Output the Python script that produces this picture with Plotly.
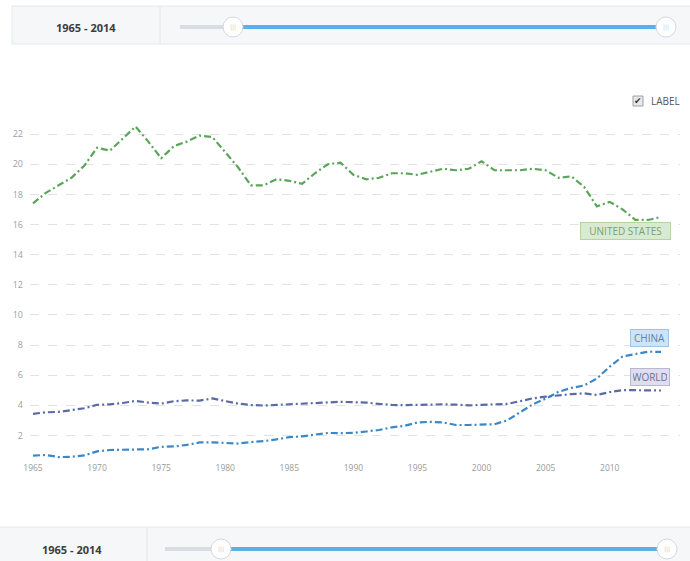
import plotly.graph_objects as go

years = list(range(1965, 2015))
us = [17.4, 18.1, 18.6, 19.1, 19.9, 21.1, 20.9, 21.7, 22.5, 21.5,
      20.4, 21.2, 21.5, 21.9, 21.8, 20.8, 19.8, 18.6, 18.6, 19.0,
      18.9, 18.7, 19.4, 20.0, 20.1, 19.3, 19.0, 19.1, 19.4, 19.4,
      19.3, 19.5, 19.7, 19.6, 19.7, 20.2, 19.6, 19.6, 19.6, 19.7,
      19.6, 19.1, 19.2, 18.5, 17.2, 17.5, 17.0, 16.3, 16.3, 16.5]
china = [0.66, 0.70, 0.56, 0.58, 0.67, 0.94, 1.03, 1.06, 1.08, 1.08,
         1.24, 1.27, 1.37, 1.53, 1.54, 1.49, 1.46, 1.56, 1.62, 1.74,
         1.88, 1.94, 2.04, 2.16, 2.15, 2.17, 2.26, 2.36, 2.53, 2.64,
         2.86, 2.90, 2.86, 2.69, 2.69, 2.70, 2.74, 3.00, 3.52, 4.06,
         4.44, 4.89, 5.15, 5.31, 5.78, 6.56, 7.24, 7.42, 7.56, 7.54]
world = [3.43, 3.53, 3.56, 3.66, 3.80, 4.03, 4.06, 4.15, 4.29, 4.18,
         4.11, 4.27, 4.32, 4.31, 4.45, 4.28, 4.11, 4.02, 3.98, 4.02,
         4.07, 4.09, 4.14, 4.21, 4.23, 4.20, 4.18, 4.09, 4.02, 4.01,
         4.04, 4.06, 4.06, 4.04, 3.99, 4.03, 4.05, 4.09, 4.27, 4.46,
         4.57, 4.67, 4.74, 4.79, 4.68, 4.88, 5.00, 5.00, 5.00, 4.98]
series_names = ["UNITED STATES", "CHINA", "WORLD"]
range_label = "1965 - 2014"
x_ticks = [1965, 1970, 1975, 1980, 1985, 1990, 1995, 2000, 2005, 2010]
y_ticks = [2, 4, 6, 8, 10, 12, 14, 16, 18, 20, 22]

W, H = 690, 561
L, R, T, B = 30, 10, 110, 100
PW, PH = W - L - R, H - T - B


def px(x):
    return (x - L) / PW


def py(y):
    return (H - B - y) / PH


FONT = "Open Sans"
colors = {"UNITED STATES": "#5aa55a", "CHINA": "#3a88c8", "WORLD": "#5b6aa6"}
dash = "7px,3px,2px,3px"

fig = go.Figure()
for name, vals in zip(series_names, [us, china, world]):
    fig.add_trace(go.Scatter(x=years, y=vals, mode="lines", name=name,
                             line=dict(color=colors[name], width=2.2, dash=dash),
                             hoverinfo="skip"))

shapes = []
annotations = []

# label boxes
label_styles = {
    "UNITED STATES": dict(bg="#d8ead2", border="#b3d5a6", fc="#7d9f6c", x=625.5, y=230.5, w=85),
    "CHINA": dict(bg="#d0e3f3", border="#9ec3e4", fc="#5d82ac", x=649.5, y=338, w=33),
    "WORLD": dict(bg="#dedeee", border="#b7b7d3", fc="#6e6e92", x=650, y=377, w=34),
}
for name, s in label_styles.items():
    annotations.append(dict(x=px(s["x"]), y=py(s["y"]), xref="paper", yref="paper",
                            text=name, showarrow=False, bgcolor=s["bg"],
                            bordercolor=s["border"], borderwidth=1, borderpad=2,
                            width=s["w"], height=12, align="center",
                            font=dict(family=FONT, size=10, color=s["fc"]),
                            xanchor="center", yanchor="middle"))

# LABEL checkbox
shapes.append(dict(type="rect", xref="paper", yref="paper",
                   x0=px(633), x1=px(643), y0=py(106), y1=py(96),
                   line=dict(color="#a0a0a0", width=1), fillcolor="#e8e8e8"))
annotations.append(dict(x=px(638), y=py(101), xref="paper", yref="paper", text="✔",
                        showarrow=False, font=dict(family="DejaVu Sans", size=9, color="#333"),
                        xanchor="center", yanchor="middle"))
annotations.append(dict(x=px(649), y=py(101), xref="paper", yref="paper", text="LABEL",
                        showarrow=False, font=dict(family=FONT, size=10, color="#555"),
                        xanchor="left", yanchor="middle"))


def slider_panel(top, bottom, left, divider, text_x, track_y, t0, h1, h2):
    shapes.append(dict(type="rect", xref="paper", yref="paper", layer="below",
                       x0=px(left), x1=px(W + 2), y0=py(bottom), y1=py(top),
                       line=dict(color="#e6e8ec", width=1), fillcolor="#f6f7f9"))
    shapes.append(dict(type="line", xref="paper", yref="paper",
                       x0=px(divider), x1=px(divider), y0=py(bottom), y1=py(top),
                       line=dict(color="#e4e6ea", width=1)))
    annotations.append(dict(x=px(text_x), y=py(track_y), xref="paper", yref="paper",
                            text="<b>" + range_label + "</b>", showarrow=False,
                            font=dict(family=FONT, size=11, color="#3c3c3c"),
                            xanchor="center", yanchor="middle"))
    shapes.append(dict(type="line", xref="paper", yref="paper",
                       x0=px(t0), x1=px(h1), y0=py(track_y), y1=py(track_y),
                       line=dict(color="#d8dde3", width=4)))
    shapes.append(dict(type="line", xref="paper", yref="paper",
                       x0=px(h1), x1=px(h2), y0=py(track_y), y1=py(track_y),
                       line=dict(color="#5cb0ea", width=4)))
    for hx in (h1, h2):
        shapes.append(dict(type="circle", xref="paper", yref="paper",
                           x0=px(hx - 10), x1=px(hx + 10),
                           y0=py(track_y + 10), y1=py(track_y - 10),
                           line=dict(color="#d4d8dd", width=1), fillcolor="#ffffff"))
        annotations.append(dict(x=px(hx), y=py(track_y), xref="paper", yref="paper",
                                text="|||", showarrow=False,
                                font=dict(family="DejaVu Sans", size=6, color="#c8ccd2"),
                                xanchor="center", yanchor="middle"))


slider_panel(6, 44, 12, 160, 86, 27, 180, 233, 666)
slider_panel(527, 565, -2, 147, 72, 549, 165, 221, 667)

x0_year = 1965 - 3 / 12.82
x1_year = 2014 + 19 / 12.82

fig.update_layout(
    width=W, height=H,
    margin=dict(l=L, r=R, t=T, b=B, pad=0),
    paper_bgcolor="white", plot_bgcolor="white",
    showlegend=False,
    font=dict(family=FONT, color="#999"),
    shapes=shapes, annotations=annotations,
    xaxis=dict(range=[x0_year, x1_year], tickvals=x_ticks, showgrid=False,
               zeroline=False, showline=False, ticks="",
               tickfont=dict(family=FONT, size=8.5, color="#9a9a9a")),
    yaxis=dict(range=[0.3, 23.6], tickvals=y_ticks, showgrid=True,
               gridcolor="#e2e2e2", griddash="dash", gridwidth=1,
               zeroline=False, showline=False, ticks="", ticklabelstandoff=6,
               tickfont=dict(family=FONT, size=9, color="#a0a0a0")),
)

fig.write_html("out.html", config={"displayModeBar": False},
               post_script="document.body.style.margin='0';document.body.style.overflow='hidden';")
